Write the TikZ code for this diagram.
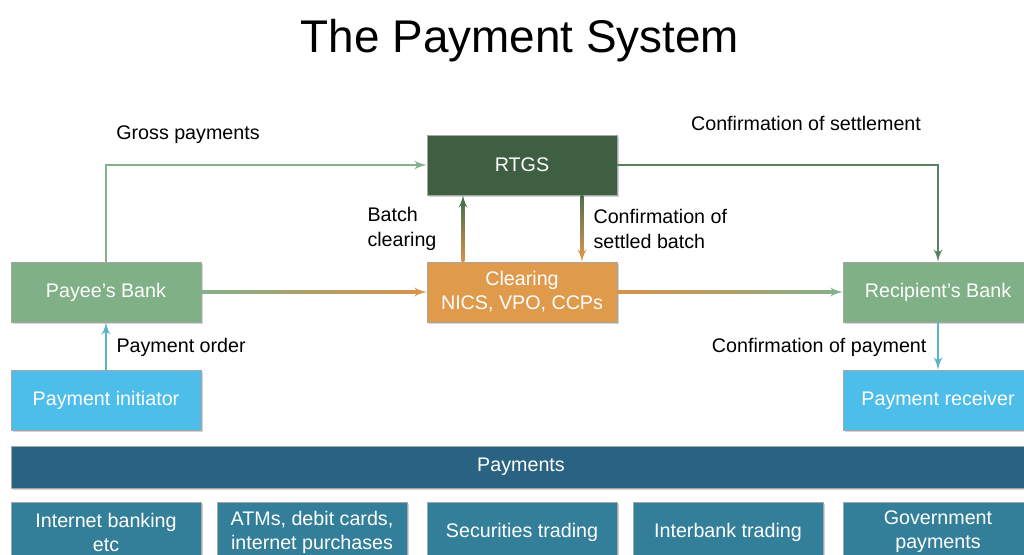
\documentclass[tikz,border=0pt]{standalone}
\usepackage{fontspec}
\setmainfont{Liberation Sans}
\usepackage{tikz}
\usetikzlibrary{arrows,calc,shadows}

\definecolor{rtgsgreen}{HTML}{3F5F43}
\definecolor{bankgreen}{HTML}{80B086}
\definecolor{clearorange}{HTML}{E09A4C}
\definecolor{partyblue}{HTML}{4DBDE9}
\definecolor{paybar}{HTML}{2A6281}
\definecolor{paytype}{HTML}{337F99}
\definecolor{linkgreen}{HTML}{84B08A}
\definecolor{linkdark}{HTML}{4A6E4E}
\definecolor{linkorange}{HTML}{D9924A}
\definecolor{linkblue}{HTML}{5AB3CC}

% arrows whose shaft fades from one colour to another
\newcommand{\hfade}[4]{%
  \shade[left color=#3, right color=#4] ($(#1)+(0,-1.4)$) rectangle ($(#2)+(-6,1.4)$);
  \draw[->, line width=2pt, #4] ($(#1)!0.95!(#2)$) -- (#2);
}
\newcommand{\vfade}[4]{%
  \shade[top color=#3, bottom color=#4] ($(#1)+(-1.4,0)$) rectangle ($(#2)+(1.4,-6)$);
  \draw[->, line width=2pt, #4] ($(#1)!0.9!(#2)$) -- (#2);
}
\newcommand{\vfadeup}[4]{%
  \shade[bottom color=#3, top color=#4] ($(#1)+(-1.4,0)$) rectangle ($(#2)+(1.4,6)$);
  \draw[->, line width=2pt, #4] ($(#1)!0.9!(#2)$) -- (#2);
}

\begin{document}
\begin{tikzpicture}[x=0.025cm, y=-0.025cm, >=latex', thick]
    \tikzstyle{box}=[rectangle, minimum width=4.75cm, minimum height=1.5cm, text=white,
        align=center, inner sep=2pt, draw=black!35, line width=0.4pt,
        drop shadow={opacity=0.35, shadow xshift=1.2pt, shadow yshift=-1.2pt},
        font=\fontsize{14}{17}\selectfont]
    \tikzstyle{lbl}=[inner sep=0pt, align=left, font=\fontsize{14}{17.7}\selectfont]
    \tikzstyle{link}=[->, line width=2pt]

    \useasboundingbox (0,0) rectangle (1024,554);

    \node[font=\fontsize{32.6}{38}\selectfont] (title) at (520,41) {The Payment System};

    \node[box, fill=rtgsgreen] (rtgs) at (522,165) {RTGS};
    \node[box, fill=clearorange] (clearing) at (522,292) {Clearing\\NICS, VPO, CCPs};
    \node[box, fill=bankgreen] (payee) at (106,292) {Payee’s Bank};
    \node[box, fill=bankgreen] (recip) at (938,292) {Recipient’s Bank};
    \node[box, fill=partyblue] (init) at (106,400) {Payment initiator};
    \node[box, fill=partyblue] (recv) at (938,400) {Payment receiver};

    \node[box, fill=paybar, minimum width=25.5cm, minimum height=1.05cm] (payments) at (521,467) {Payments};
    \node[box, fill=paytype] (ib) at (106,532) {Internet banking\\etc};
    \node[box, fill=paytype] (atm) at (312,532) {ATMs, debit cards,\\internet purchases};
    \node[box, fill=paytype] (sec) at (522,532) {Securities trading};
    \node[box, fill=paytype] (inter) at (728,532) {Interbank trading};
    \node[box, fill=paytype] (gov) at (938,532) {Government\\payments};

    \draw[link, linkgreen] (payee.north) |- (rtgs.west);
    \draw[link, linkdark!70!linkgreen] (rtgs.east) -| (recip.north);
    \hfade{payee.east}{clearing.west}{linkgreen}{linkorange}
    \hfade{clearing.east}{recip.west}{linkorange}{linkgreen}
    \vfadeup{$(clearing.north)+(-59,0)$}{$(rtgs.south)+(-59,0)$}{linkorange}{linkdark}
    \vfade{$(rtgs.south)+(60,0)$}{$(clearing.north)+(60,0)$}{linkdark}{linkorange}
    \draw[link, linkblue] (init.north) -- (payee.south);
    \draw[link, linkblue] (recip.south) -- (recv.north);

    \node[lbl] (gross) at (188,135) {Gross payments};
    \node[lbl] (confset) at (806,123) {Confirmation of settlement};
    \node[lbl, anchor=east] (batch) at (437,229) {Batch\\clearing};
    \node[lbl, anchor=west] (confbatch) at (593,229) {Confirmation of\\settled batch};
    \node[lbl, anchor=west] (order) at (116,347) {Payment order};
    \node[lbl, anchor=east] (confpay) at (927,347) {Confirmation of payment};
\end{tikzpicture}
\end{document}
